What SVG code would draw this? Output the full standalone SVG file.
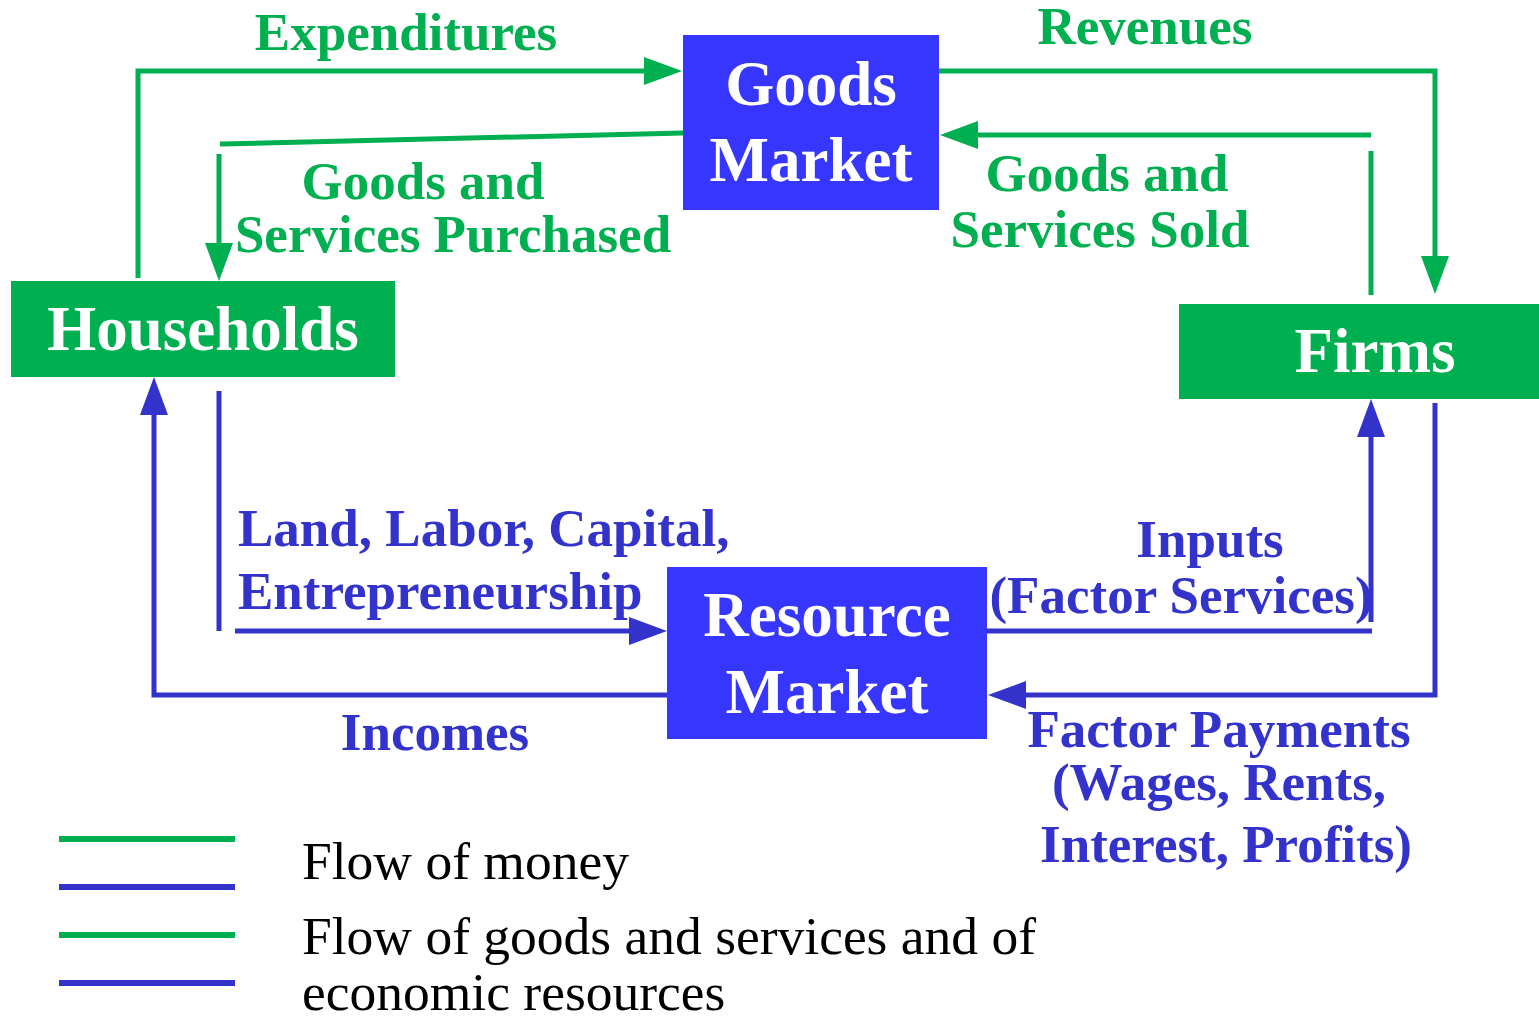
<svg xmlns="http://www.w3.org/2000/svg" width="1539" height="1022" viewBox="0 0 1539 1022">
<style>
.bg{fill:#ffffff}
.gbox{fill:#00AF50}
.bbox{fill:#3636FF}
.nt{font-family:"Liberation Serif","Times New Roman",serif;font-weight:bold;font-size:63px;fill:#ffffff;text-anchor:middle}
.gl{font-family:"Liberation Serif","Times New Roman",serif;font-weight:bold;font-size:53px;fill:#00AF50}
.bl{font-family:"Liberation Serif","Times New Roman",serif;font-weight:bold;font-size:53px;fill:#3333CC}
.lg{font-family:"Liberation Serif","Times New Roman",serif;font-size:53.5px;fill:#000000}
.gc{fill:none;stroke:#00AF50;stroke-width:5}
.bc{fill:none;stroke:#3333CC;stroke-width:5}
.mid{text-anchor:middle}
</style>
<defs>
<marker id="ag" viewBox="0 0 38 28" refX="0" refY="14" markerWidth="38" markerHeight="28" markerUnits="userSpaceOnUse" orient="auto">
<path d="M0,0 L38,14 L0,28 z" fill="#00AF50"/>
</marker>
<marker id="ab" viewBox="0 0 38 28" refX="0" refY="14" markerWidth="38" markerHeight="28" markerUnits="userSpaceOnUse" orient="auto">
<path d="M0,0 L38,14 L0,28 z" fill="#3333CC"/>
</marker>
</defs>
<rect class="bg" x="0" y="0" width="1539" height="1022"/>

<g id="connectors">
<path class="gc" d="M138,278 L138,71 L644,71" marker-end="url(#ag)"/>
<path class="gc" d="M683,133 L220,144"/>
<path class="gc" d="M219,154 L219,243" marker-end="url(#ag)"/>
<path class="gc" d="M939,71 L1435,71 L1435,256" marker-end="url(#ag)"/>
<path class="gc" d="M1371,295 L1371,151"/>
<path class="gc" d="M1371,135 L978,135" marker-end="url(#ag)"/>
<path class="bc" d="M667,695 L154,695 L154,415" marker-end="url(#ab)"/>
<path class="bc" d="M219,391 L219,631"/>
<path class="bc" d="M235,631 L629,631" marker-end="url(#ab)"/>
<path class="bc" d="M987,631 L1372,631"/>
<path class="bc" d="M1371,622 L1371,437" marker-end="url(#ab)"/>
<path class="bc" d="M1435,403 L1435,695 L1026,695" marker-end="url(#ab)"/>
</g>

<g id="goods-market">
<rect class="bbox" x="683" y="35" width="256" height="175"/>
<text class="nt" x="811" y="105">Goods</text>
<text class="nt" x="811" y="181">Market</text>
</g>
<g id="households">
<rect class="gbox" x="11" y="281" width="384" height="96"/>
<text class="nt" x="203" y="350">Households</text>
</g>
<g id="firms">
<rect class="gbox" x="1179" y="304" width="360" height="95"/>
<text class="nt" x="1375" y="372">Firms</text>
</g>
<g id="resource-market">
<rect class="bbox" x="667" y="567" width="320" height="172"/>
<text class="nt" x="827" y="636">Resource</text>
<text class="nt" x="827" y="713">Market</text>
</g>

<g id="labels">
<text class="gl mid" x="406" y="50">Expenditures</text>
<text class="gl mid" x="1145" y="44">Revenues</text>
<text class="gl mid" x="423" y="199">Goods and</text>
<text class="gl mid" x="453" y="252">Services Purchased</text>
<text class="gl mid" x="1107" y="191">Goods and</text>
<text class="gl mid" x="1100" y="247">Services Sold</text>
<text class="bl" x="238" y="546">Land, Labor, Capital,</text>
<text class="bl" x="238" y="609">Entrepreneurship</text>
<text class="bl mid" x="435" y="750">Incomes</text>
<text class="bl mid" x="1210" y="557">Inputs</text>
<text class="bl mid" x="1181" y="613">(Factor Services)</text>
<text class="bl mid" x="1219" y="747">Factor Payments</text>
<text class="bl mid" x="1219" y="800">(Wages, Rents,</text>
<text class="bl mid" x="1226" y="862">Interest, Profits)</text>
</g>

<g id="legend">
<line x1="59" y1="839" x2="235" y2="839" stroke="#00AF50" stroke-width="6"/>
<line x1="59" y1="887" x2="235" y2="887" stroke="#3333CC" stroke-width="6"/>
<line x1="59" y1="935" x2="235" y2="935" stroke="#00AF50" stroke-width="6"/>
<line x1="59" y1="983" x2="235" y2="983" stroke="#3333CC" stroke-width="6"/>
<text class="lg" x="302" y="879">Flow of money</text>
<text class="lg" x="302" y="954">Flow of goods and services and of</text>
<text class="lg" x="302" y="1010">economic resources</text>
</g>
</svg>
